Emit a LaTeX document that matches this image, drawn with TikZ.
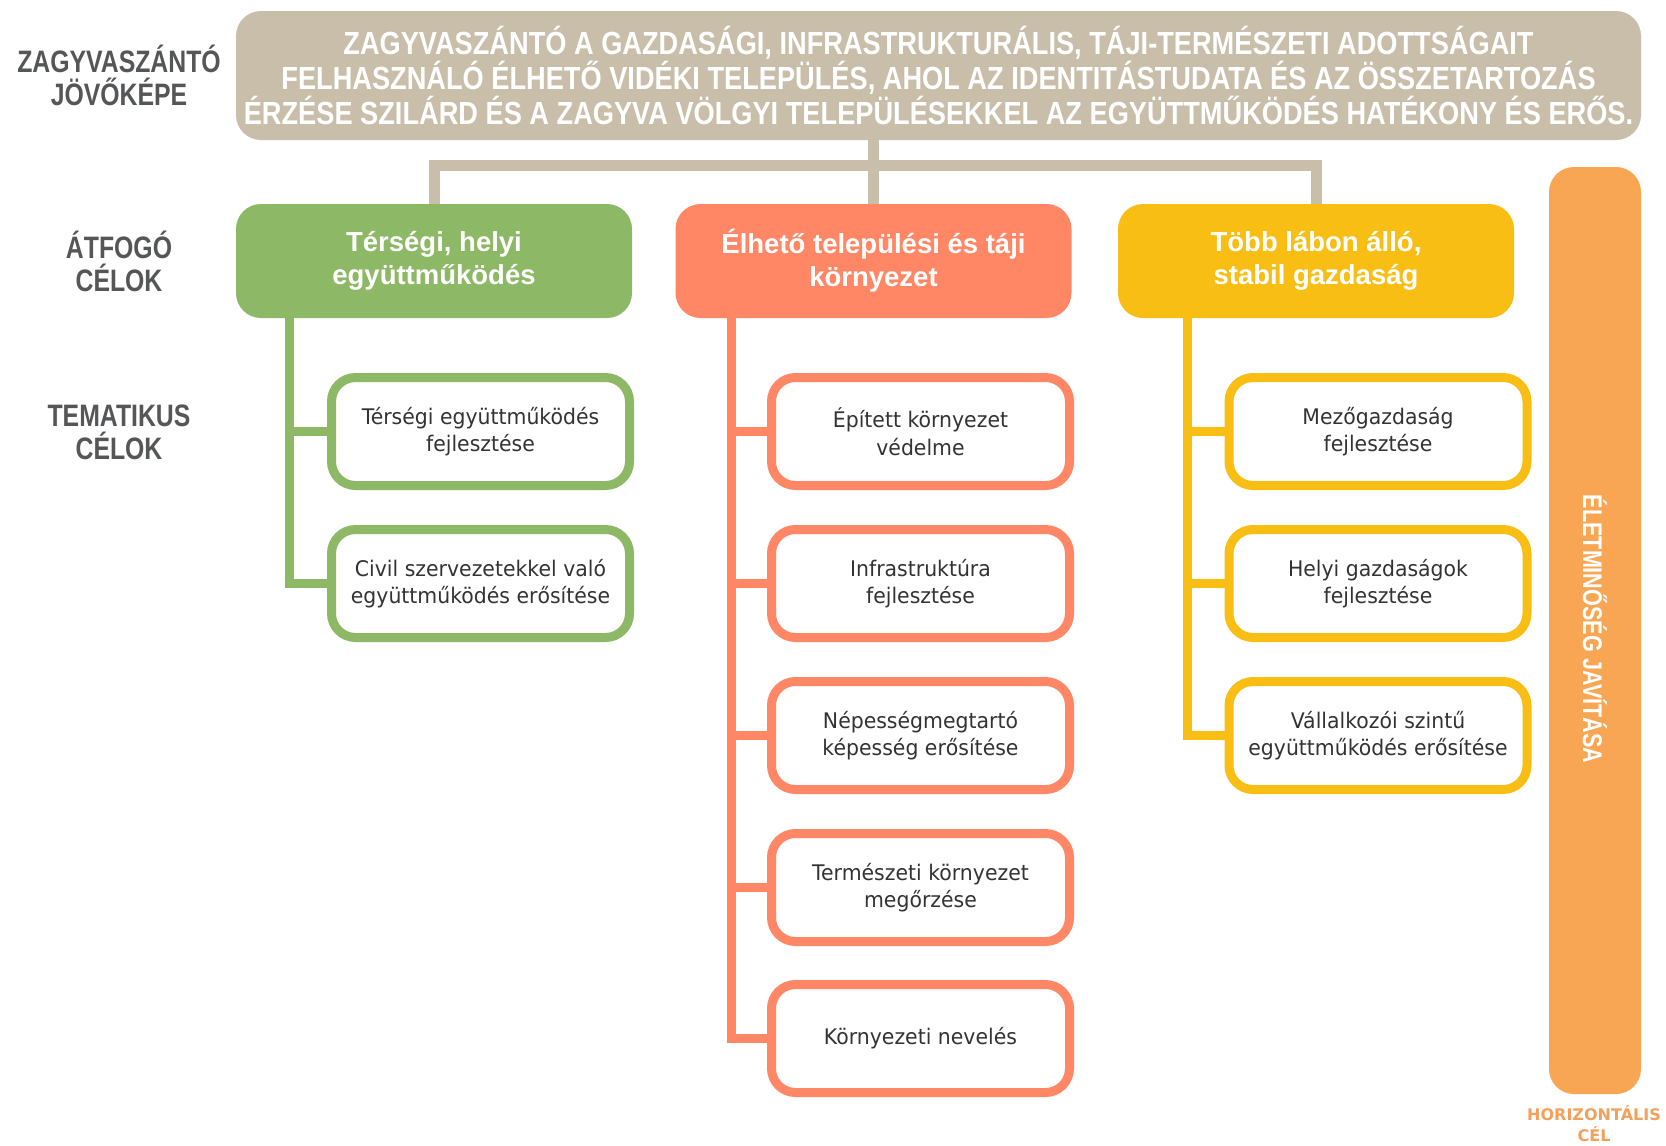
\documentclass[tikz,border=0pt]{standalone}
\usepackage{fontspec}
\setmainfont{DejaVu Sans}
\newfontfamily\headfont[FakeStretch=0.8]{Liberation Sans}
\newfontfamily\visfont[FakeStretch=0.85]{Liberation Sans}
\newfontfamily\lvfont{Liberation Sans}
\newfontfamily\boxfont[FakeStretch=0.95]{DejaVu Sans}
\newfontfamily\hzfont{DejaVu Sans}
\definecolor{cbeige}{RGB}{200,190,170}
\definecolor{cgreen}{RGB}{141,184,101}
\definecolor{csalmon}{RGB}{255,135,102}
\definecolor{cyellow}{RGB}{249,190,20}
\definecolor{corange}{RGB}{249,166,84}
\definecolor{chz}{RGB}{244,160,90}
\definecolor{cgrey}{RGB}{85,86,88}
\definecolor{ctext}{RGB}{51,51,51}
\begin{document}
\begin{tikzpicture}[x=1pt,y=-1pt,
  vision/.style={fill=cbeige, rounded corners=25pt, minimum width=1405pt, minimum height=129pt, inner sep=0pt, text=white, font=\visfont\bfseries\fontsize{32}{35}\selectfont, align=center},
  lvone/.style={rounded corners=25pt, minimum width=396pt, minimum height=114pt, inner sep=0pt, text=white, font=\lvfont\bfseries\fontsize{27.5}{33}\selectfont, align=center},
  child/.style={draw, line width=9pt, fill=white, rounded corners=24pt, minimum width=298pt, minimum height=108pt, inner sep=0pt, text=ctext, font=\boxfont\fontsize{21.5}{27.5}\selectfont, align=center},
  lbl/.style={text=cgrey, font=\headfont\bfseries\fontsize{31}{33}\selectfont, align=center},
  busline/.style={draw=cbeige, line width=11pt},
  trunk/.style={line width=9pt}
]
\useasboundingbox (0,0) rectangle (1666,1146);
\fill[white] (0,0) rectangle (1666,1146);

% left labels
\node[lbl] (l1) at (119,75.5) {ZAGYVASZÁNTÓ\\JÖVŐKÉPE};
\node[lbl] (l2) at (119,261) {ÁTFOGÓ\\CÉLOK};
\node[lbl] (l3) at (119,432) {TEMATIKUS\\CÉLOK};

% vision
\node[vision] (vis) at (938.5,75.5) {ZAGYVASZÁNTÓ A GAZDASÁGI, INFRASTRUKTURÁLIS, TÁJI-TERMÉSZETI ADOTTSÁGAIT\\FELHASZNÁLÓ ÉLHETŐ VIDÉKI TELEPÜLÉS, AHOL AZ IDENTITÁSTUDATA ÉS AZ ÖSSZETARTOZÁS\\ÉRZÉSE SZILÁRD ÉS A ZAGYVA VÖLGYI TELEPÜLÉSEKKEL AZ EGYÜTTMŰKÖDÉS HATÉKONY ÉS ERŐS.};

% level one
\node[lvone, fill=cgreen] (g) at (434,261) {Térségi, helyi\\együttműködés};
\node[lvone, fill=csalmon] (s) at (873.5,261) {Élhető települési és táji\\környezet};
\node[lvone, fill=cyellow] (y) at (1316,261) {Több lábon álló,\\stabil gazdaság};

% bus connector
\coordinate (bus) at (873.5,165);
\draw[busline] (s.north |- vis.south) -- (s.north);
\draw[busline] (g.north) |- (bus) -| (y.north);

% trunk x coordinates
\coordinate (gx) at (289,0);
\coordinate (sx) at (731,0);
\coordinate (yx) at (1187,0);

% green children
\draw[trunk, cgreen] (g.south -| gx) |- (480.5,583.5);
\draw[trunk, cgreen] (gx |- 480.5,431.5) -- (480.5,431.5);
\node[child, draw=cgreen] (g1) at (480.5,431.5) {Térségi együttműködés\\fejlesztése};
\node[child, draw=cgreen] (g2) at (480.5,583.5) {Civil szervezetekkel való\\együttműködés erősítése};

% salmon children
\draw[trunk, csalmon] (s.south -| sx) |- (920.5,1038.5);
\foreach \yy in {431.5,583.5,735.5,887.5}
  \draw[trunk, csalmon] (sx |- 920.5,\yy) -- (920.5,\yy);
\node[child, draw=csalmon] (s1) at (920.5,431.5) {Épített környezet\\védelme};
\node[child, draw=csalmon] (s2) at (920.5,583.5) {Infrastruktúra\\fejlesztése};
\node[child, draw=csalmon] (s3) at (920.5,735.5) {Népességmegtartó\\képesség erősítése};
\node[child, draw=csalmon] (s4) at (920.5,887.5) {Természeti környezet\\megőrzése};
\node[child, draw=csalmon] (s5) at (920.5,1038.5) {Környezeti nevelés};

% yellow children
\draw[trunk, cyellow] (y.south -| yx) |- (1378,735.5);
\foreach \yy in {431.5,583.5}
  \draw[trunk, cyellow] (yx |- 1378,\yy) -- (1378,\yy);
\node[child, draw=cyellow] (y1) at (1378,431.5) {Mezőgazdaság\\fejlesztése};
\node[child, draw=cyellow] (y2) at (1378,583.5) {Helyi gazdaságok\\fejlesztése};
\node[child, draw=cyellow] (y3) at (1378,735.5) {Vállalkozói szintű\\együttműködés erősítése};

% horizontal bar
\node[fill=corange, rounded corners=25pt, minimum width=92pt, minimum height=927pt, inner sep=0pt] (bar) at (1595,630.5) {};
\node[rotate=-90, text=white, font=\headfont\bfseries\fontsize{27}{30}\selectfont] (bart) at (1595,629) {ÉLETMINŐSÉG JAVÍTÁSA};
\node[text=chz, font=\hzfont\bfseries\fontsize{16}{21}\selectfont, align=center] (hz) at (1594,1124) {HORIZONTÁLIS\\CÉL};
\end{tikzpicture}
\end{document}
